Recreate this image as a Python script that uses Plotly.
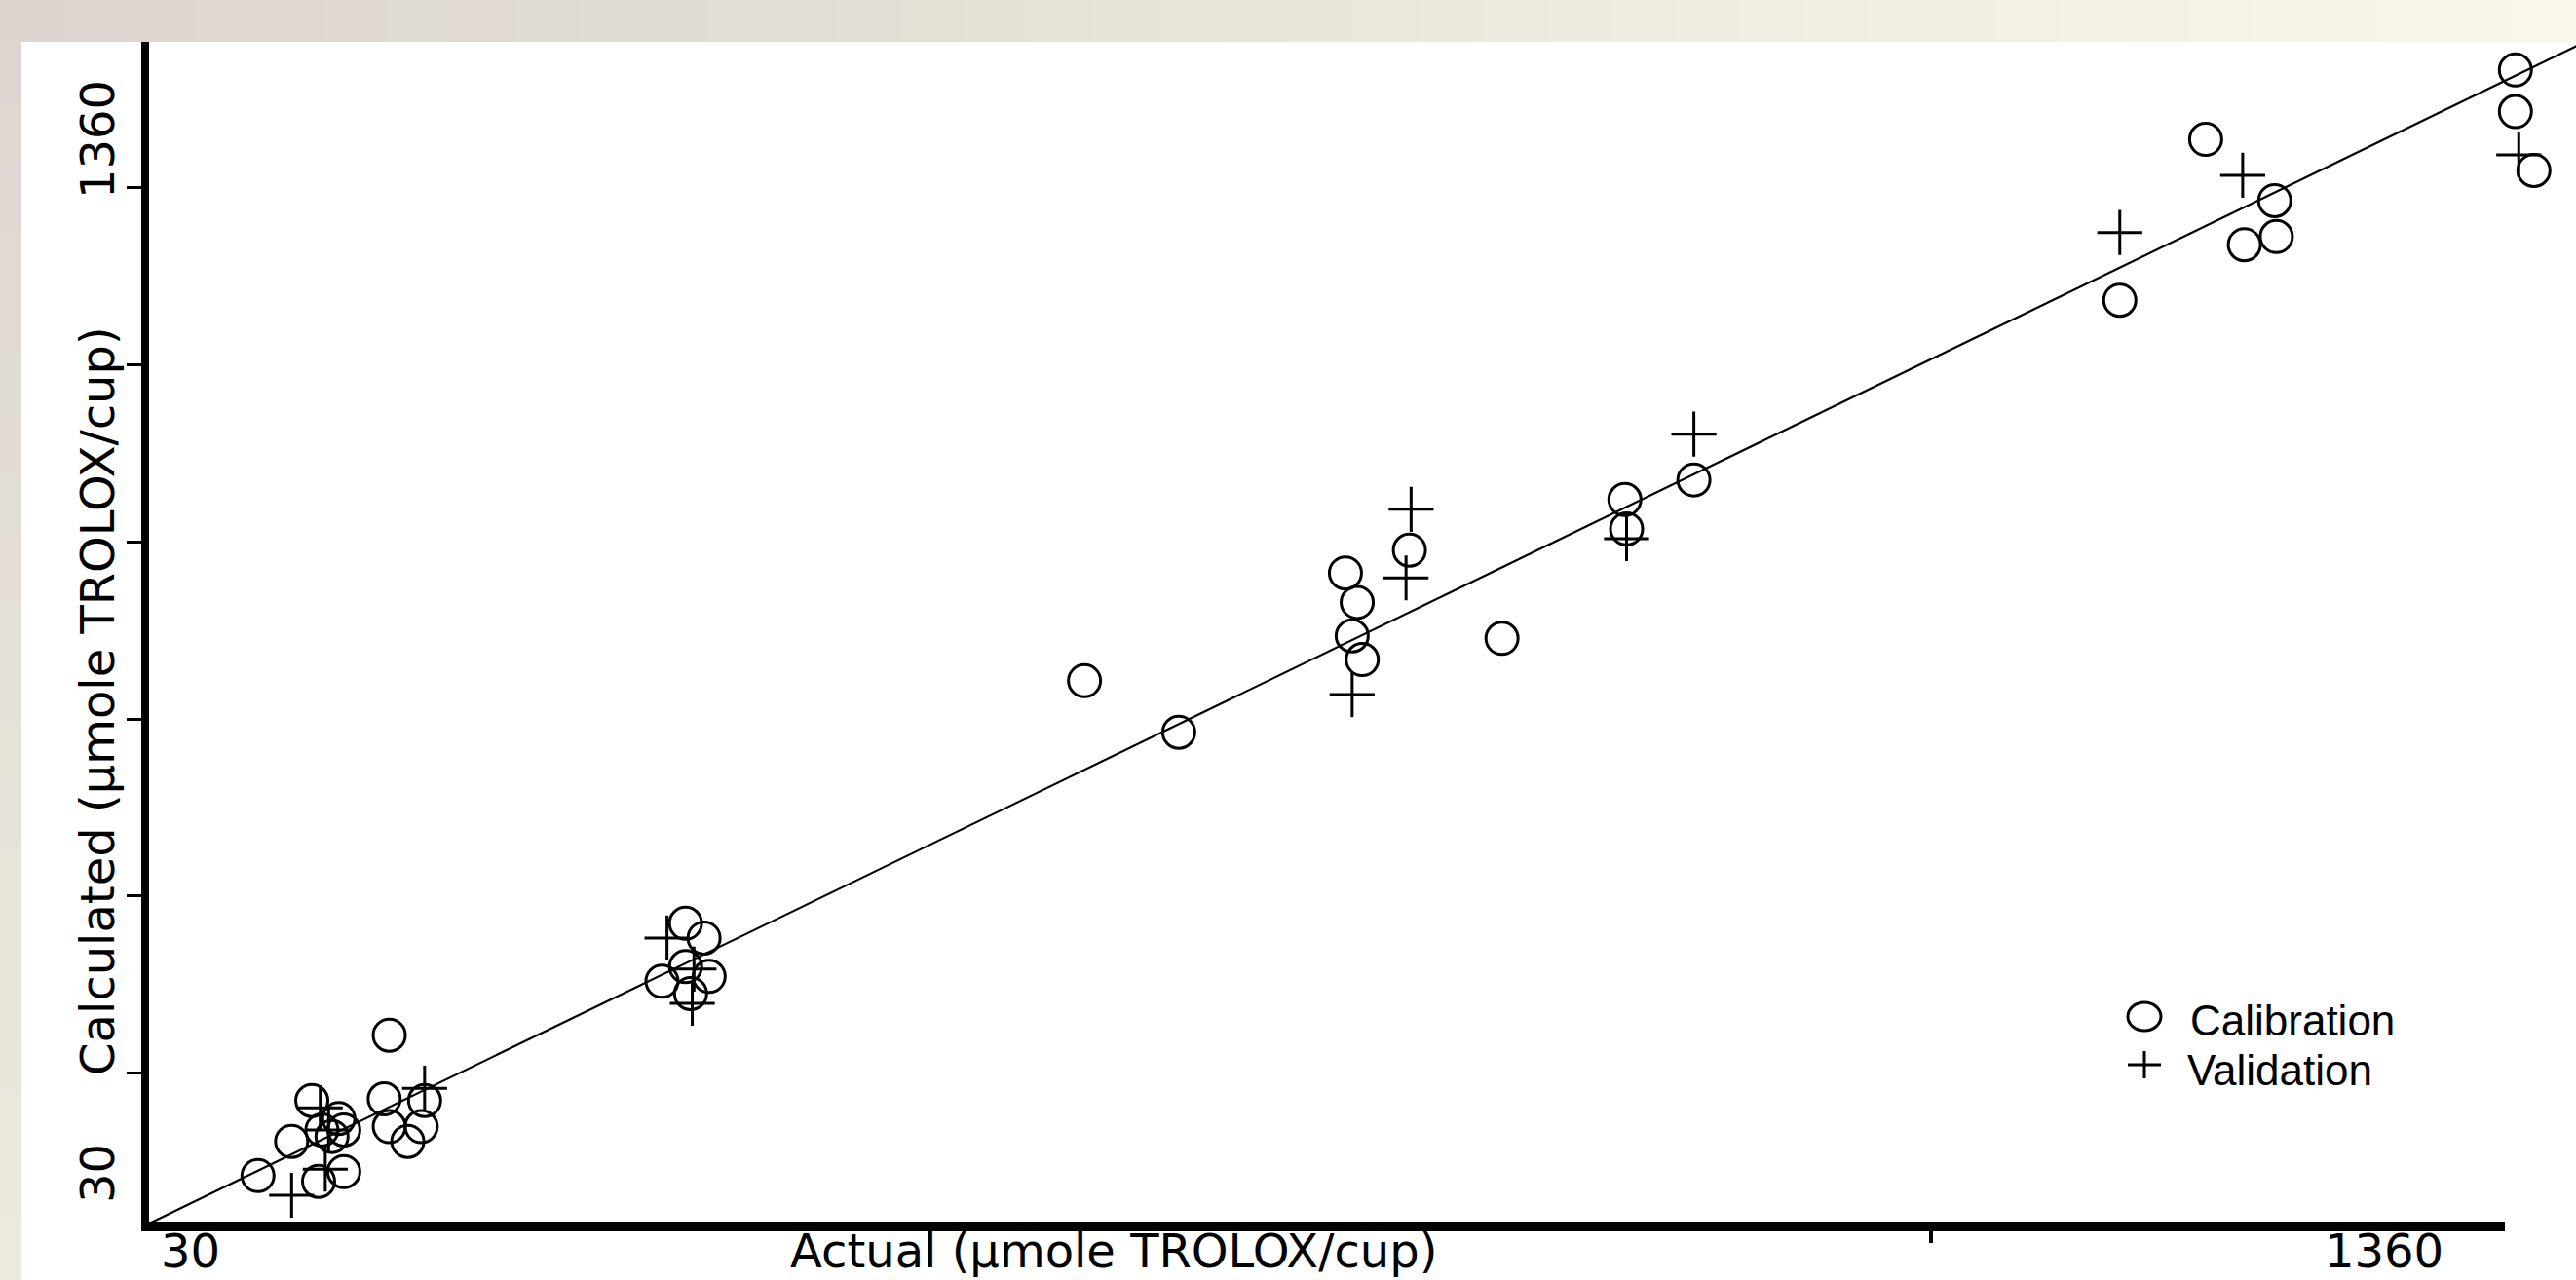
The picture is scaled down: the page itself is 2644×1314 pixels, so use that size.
import plotly.graph_objects as go

# ---------------- data ----------------
calibration_actual = [175, 129, 172, 196, 117, 175, 194, 186, 97, 133, 148, 145, 148, 135, 141,
                      351, 362, 351, 365, 337, 354,
                      588, 644, 743, 750, 747, 753, 781, 836,
                      909, 910, 950,
                      1203, 1254, 1295, 1277, 1296, 1438, 1438, 1449]
calibration_calculated = [263, 183, 185, 183, 133, 151, 151, 133, 91, 84, 96, 161, 147, 147, 139,
                          400, 382, 347, 335, 329, 314,
                          697, 634, 829, 793, 752, 723, 857, 749,
                          919, 883, 943,
                          1163, 1360, 1285, 1231, 1241, 1445, 1394, 1322]
validation_actual = [117, 196, 134, 139, 137,
                     340, 355, 356,
                     782, 779, 747,
                     910, 950,
                     1203, 1276, 1440]
validation_calculated = [67, 198, 174, 147, 99,
                         382, 302, 344,
                         907, 823, 680,
                         871, 999,
                         1246, 1316, 1341]
identity_line = [30, 1480]
x_range = [30, 1474]
y_range = [30, 1479.4]
y_tick_values = [217, 434, 650, 867, 1084, 1301]
x_tick_values = [1091]
range_labels = ["30", "1360"]
range_label_values = [30, 1360]
x_title = "Actual (µmole TROLOX/cup)"
y_title = "Calculated (µmole TROLOX/cup)"
legend_names = ["Calibration", "Validation"]

# ---------------- layout geometry ----------------
W, H = 2644, 1314
L, T, R, B = 149, 43, 0, 56
PW, PH = W - L - R, H - T - B


def px_x(px):
    return (px - L) / PW


def px_y(py):
    return (H - B - py) / PH


AXIS_FONT = dict(family="DejaVu Sans, Verdana, sans-serif", size=48, color="black")
LEG_FONT = dict(family="Liberation Sans, Arial, sans-serif", size=44, color="black")

fig = go.Figure()
fig.add_trace(go.Scatter(x=identity_line, y=identity_line, mode="lines",
                         line=dict(color="black", width=2.2),
                         showlegend=False, hoverinfo="skip"))
fig.add_trace(go.Scatter(x=calibration_actual, y=calibration_calculated, mode="markers",
                         name=legend_names[0], showlegend=False, cliponaxis=False,
                         marker=dict(symbol="circle-open", size=33, color="black",
                                     line=dict(color="black", width=3))))
fig.add_trace(go.Scatter(x=validation_actual, y=validation_calculated, mode="markers",
                         name=legend_names[1], showlegend=False, cliponaxis=False,
                         marker=dict(symbol="cross-thin-open", size=33, color="black",
                                     line=dict(color="black", width=3))))

shapes = []


def lerp_col(stops, t):
    for i in range(len(stops) - 1):
        t0, c0 = stops[i]
        t1, c1 = stops[i + 1]
        if t0 <= t <= t1:
            f = (t - t0) / (t1 - t0) if t1 > t0 else 0
            c = [round(c0[k] + (c1[k] - c0[k]) * f) for k in range(3)]
            return "rgb(%d,%d,%d)" % tuple(c)
    return "rgb(%d,%d,%d)" % tuple(stops[-1][1])


# beige frame, top band (horizontal gradient)
top_stops = [(0, (220, 213, 207)), (0.35, (227, 223, 214)), (0.7, (241, 238, 226)), (1.0, (249, 247, 233))]
n = 40
for i in range(n):
    x0 = W * i / n
    x1 = W * (i + 1) / n + 1
    shapes.append(dict(type="rect", xref="paper", yref="paper", layer="below",
                       x0=px_x(x0), x1=px_x(x1), y0=px_y(T), y1=px_y(0),
                       fillcolor=lerp_col(top_stops, (i + 0.5) / n), line=dict(width=0)))
left_stops = [(0, (221, 214, 208)), (1.0, (237, 234, 222))]
n = 20
for i in range(n):
    y0 = T + (H - T) * i / n
    y1 = T + (H - T) * (i + 1) / n + 1
    shapes.append(dict(type="rect", xref="paper", yref="paper", layer="below",
                       x0=px_x(0), x1=px_x(22), y0=px_y(y1), y1=px_y(y0),
                       fillcolor=lerp_col(left_stops, (i + 0.5) / n), line=dict(width=0)))

# axis lines
shapes.append(dict(type="line", xref="paper", yref="paper", x0=0, x1=0,
                   y0=px_y(1263), y1=1, line=dict(color="black", width=8)))
shapes.append(dict(type="line", xref="paper", yref="paper", x0=px_x(145), x1=px_x(2571),
                   y0=px_y(1259), y1=px_y(1259), line=dict(color="black", width=10)))

# legend symbols
shapes.append(dict(type="circle", xref="paper", yref="paper",
                   x0=px_x(2184), x1=px_x(2218), y0=px_y(1058), y1=px_y(1029),
                   line=dict(color="black", width=3)))
shapes.append(dict(type="line", xref="paper", yref="paper",
                   x0=px_x(2184), x1=px_x(2218), y0=px_y(1093), y1=px_y(1093),
                   line=dict(color="black", width=3)))
shapes.append(dict(type="line", xref="paper", yref="paper",
                   x0=px_x(2201), x1=px_x(2201), y0=px_y(1107), y1=px_y(1079),
                   line=dict(color="black", width=3)))

X_LABEL_Y = 1284

annotations = [
    # y-axis range labels and title
    dict(text=range_labels[1], xref="paper", yref="y", x=px_x(100), y=range_label_values[1],
         textangle=-90, showarrow=False, font=AXIS_FONT, xanchor="center", yanchor="middle"),
    dict(text=range_labels[0], xref="paper", yref="paper", x=px_x(100), y=px_y(1205),
         textangle=-90, showarrow=False, font=AXIS_FONT, xanchor="center", yanchor="middle"),
    dict(text=y_title, xref="paper", yref="paper", x=px_x(100), y=px_y(720),
         textangle=-90, showarrow=False, font=AXIS_FONT, xanchor="center", yanchor="middle"),
    # x-axis range labels and title
    dict(text=range_labels[0], xref="paper", yref="paper", x=px_x(195), y=px_y(X_LABEL_Y),
         showarrow=False, font=AXIS_FONT, xanchor="center", yanchor="middle"),
    dict(text=range_labels[1], xref="x", yref="paper", x=range_label_values[1], y=px_y(X_LABEL_Y),
         showarrow=False, font=AXIS_FONT, xanchor="center", yanchor="middle"),
    dict(text=x_title, xref="paper", yref="paper", x=px_x(1143), y=px_y(X_LABEL_Y),
         showarrow=False, font=AXIS_FONT, xanchor="center", yanchor="middle"),
    # legend texts
    dict(text=legend_names[0], xref="paper", yref="paper", x=px_x(2246), y=px_y(1047),
         showarrow=False, font=LEG_FONT, xanchor="left", yanchor="middle"),
    dict(text=legend_names[1], xref="paper", yref="paper", x=px_x(2243), y=px_y(1098),
         showarrow=False, font=LEG_FONT, xanchor="left", yanchor="middle"),
]

fig.update_layout(
    width=W, height=H,
    margin=dict(l=L, r=R, t=T, b=B, pad=0),
    paper_bgcolor="white", plot_bgcolor="white",
    showlegend=False,
    shapes=shapes, annotations=annotations,
    xaxis=dict(range=x_range, showgrid=False, zeroline=False, showline=False,
               tickmode="array", tickvals=x_tick_values, showticklabels=False,
               ticks="outside", ticklen=17, tickwidth=4, tickcolor="black", fixedrange=True),
    yaxis=dict(range=y_range, showgrid=False, zeroline=False, showline=False,
               tickmode="array", tickvals=y_tick_values, showticklabels=False,
               ticks="outside", ticklen=18, tickwidth=2.5, tickcolor="black", fixedrange=True),
)

fig.write_html("out.html", config={"displayModeBar": False},
               post_script="document.body.style.margin='0';")
